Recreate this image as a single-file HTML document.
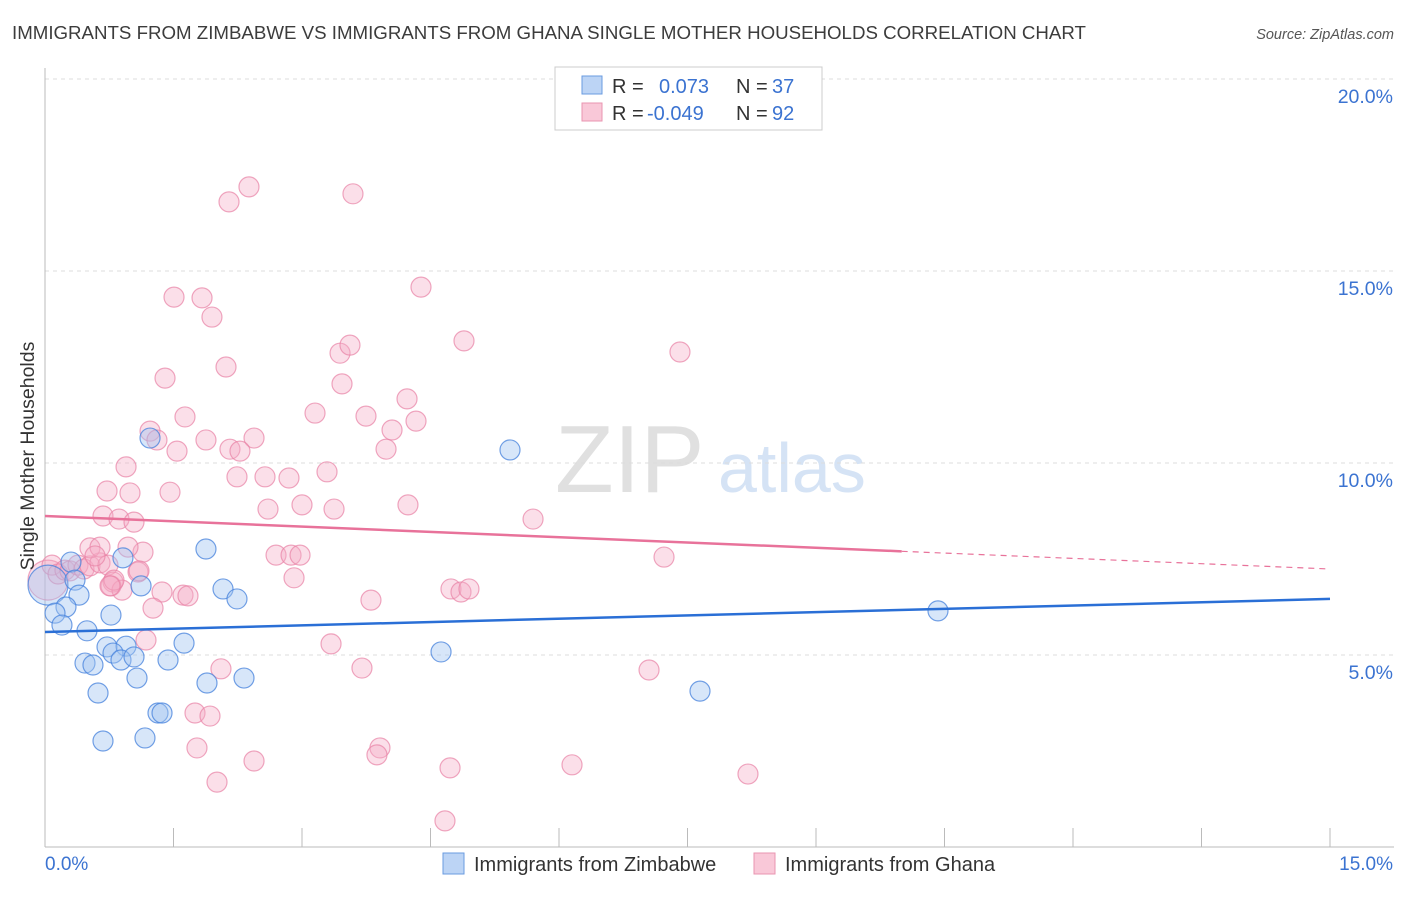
<!DOCTYPE html>
<html><head><meta charset="utf-8"><style>
body{margin:0;background:#fff;font-family:"Liberation Sans",sans-serif;}
svg text{font-family:"Liberation Sans",sans-serif;}
</style></head><body>
<svg id="c" width="1406" height="892" xmlns="http://www.w3.org/2000/svg">
<text x="12" y="39" font-size="18.7" fill="#3c3c3c">IMMIGRANTS FROM ZIMBABWE VS IMMIGRANTS FROM GHANA SINGLE MOTHER HOUSEHOLDS CORRELATION CHART</text>
<text x="1394" y="39" font-size="14.5" fill="#555" font-style="italic" text-anchor="end">Source: ZipAtlas.com</text>
<text x="555" y="492" font-size="96" fill="#e0e0e0" font-family="Liberation Serif">ZIP</text>
<text x="718" y="492" font-size="70" fill="#d5e3f5">atlas</text>
<g id="grid"></g>
<g id="axes"></g>
<g id="pts"></g>
<g id="lines"></g>
<text transform="translate(34,456) rotate(-90)" font-size="19.5" fill="#333" text-anchor="middle">Single Mother Households</text>
<g>
<rect x="555" y="67" width="267" height="63" fill="#fff" stroke="#ccc"/>
<rect x="582" y="76" width="20" height="18" fill="#bcd4f5" stroke="#6a9be0"/>
<rect x="582" y="103" width="20" height="18" fill="#f9c8d8" stroke="#e995b0"/>
<text x="612" y="93" font-size="20" fill="#333">R = <tspan x="659" fill="#3b73d1">0.073</tspan><tspan x="736">N = </tspan><tspan x="772" fill="#3b73d1">37</tspan></text>
<text x="612" y="120" font-size="20" fill="#333">R = <tspan x="647" fill="#3b73d1">-0.049</tspan><tspan x="736">N = </tspan><tspan x="772" fill="#3b73d1">92</tspan></text>
</g>
<g>
<rect x="443" y="853" width="21" height="21" fill="#bcd4f5" stroke="#6a9be0"/>
<text x="474" y="871" font-size="20" fill="#333">Immigrants from Zimbabwe</text>
<rect x="754" y="853" width="21" height="21" fill="#f9c8d8" stroke="#e995b0"/>
<text x="785" y="871" font-size="20" fill="#333">Immigrants from Ghana</text>
</g>
</svg>
<script>
const yTicks=[5,10,15,20];
const yTickLabels=["5.0%","10.0%","15.0%","20.0%"];
const xTickCount=10;
const blueX=[0.035,1.879,0.910,0.303,0.350,0.397,1.121,2.078,2.241,0.770,0.245,0.117,0.198,0.490,0.724,0.946,0.794,0.887,1.039,0.467,0.560,1.436,1.623,1.074,1.891,2.323,0.619,1.319,1.366,0.677,1.167,1.226,4.623,5.428,7.646,10.424];
const blueY=[6.82,7.76,7.53,7.42,6.95,6.56,6.80,6.72,6.46,6.04,6.25,6.09,5.78,5.63,5.21,5.23,5.05,4.87,4.95,4.79,4.74,4.87,5.31,4.40,4.27,4.40,4.01,3.49,3.49,2.76,2.84,10.65,5.08,10.34,4.06,6.15];
const blueR=[20];
const pinkX=[0.035,0.082,0.152,0.233,0.292,0.385,0.455,0.525,0.642,0.735,0.525,0.642,1.144,1.086,0.794,0.770,0.899,1.366,1.611,1.669,1.261,
2.381,2.148,3.595,1.506,1.833,1.949,4.389,4.891,7.412,3.444,3.560,1.401,2.113,3.467,3.152,3.747,4.226,4.331,4.051,1.634,1.226,1.307,1.541,1.879,2.440,2.159,2.276,3.981,3.292,0.946,2.241,2.568,2.848,0.724,0.992,1.459,3.000,3.374,4.237,2.603,5.697,0.677,0.864,1.039,0.584,0.969,2.697,2.872,2.977,7.226,2.907,3.805,4.739,4.856,4.949,1.179,3.339,3.700,2.054,7.051,1.751,1.926,3.910,3.875,1.774,2.440,4.728,6.152,8.206,2.008,4.669,1.097,0.805,0.759];
const pinkY=[6.95,7.34,7.11,7.21,7.19,7.34,7.24,7.32,7.40,7.34,7.79,7.81,7.68,7.16,6.90,6.80,6.69,6.64,6.56,6.54,6.22,
17.19,16.80,17.01,14.32,14.30,13.80,14.58,13.18,12.89,12.86,13.07,12.21,12.50,12.06,11.30,11.22,11.67,11.09,10.86,11.20,10.83,10.60,10.31,10.60,10.65,10.36,10.31,10.36,9.77,9.90,9.64,9.64,9.61,9.27,9.22,9.24,8.91,8.80,8.91,8.80,8.54,8.62,8.54,8.46,7.58,7.81,7.60,7.60,7.60,7.55,7.01,6.43,6.72,6.64,6.72,5.39,5.29,4.66,4.64,4.61,3.49,3.41,2.58,2.40,2.58,2.24,2.06,2.14,1.90,1.69,0.68,7.19,6.95,6.80];
const pinkR=[20];
const blueLine=[5.6,6.46];
const pinkLine=[8.62,7.24];
const pinkSolidEnd=10.0;
const X0=45,X1=1330,YB=847,PPU=38.4;
const sx=v=>X0+(v/15)*(X1-X0);
const sy=v=>YB-v*PPU;
const NS="http://www.w3.org/2000/svg";
function mk(tag,attrs,parent){const e=document.createElementNS(NS,tag);for(const k in attrs)e.setAttribute(k,attrs[k]);parent.appendChild(e);return e;}
const grid=document.getElementById('grid'),axes=document.getElementById('axes'),pts=document.getElementById('pts'),lines=document.getElementById('lines');
yTicks.forEach((t,i)=>{
 const l=mk('line',{x1:45,x2:1394,y1:sy(t),y2:sy(t),stroke:'#ddd','stroke-dasharray':'4,4'},grid);
 
 
 const tx=mk('text',{x:1393,y:sy(t)+24,'font-size':19.5,fill:'#3b73d1','text-anchor':'end'},axes);
 tx.textContent=yTickLabels[i];
 
 
});
const ya=mk('line',{x1:45,x2:45,y1:68,y2:847,stroke:'#bbb'},axes);


const xa=mk('line',{x1:45,x2:1394,y1:847,y2:847,stroke:'#bbb'},axes);


for(let i=0;i<=xTickCount;i++){
 const x=sx(i*15/xTickCount);
 const t=mk('line',{x1:x,x2:x,y1:828,y2:847,stroke:'#bbb'},axes);
 
 
}
const xl0=mk('text',{x:45,y:870,'font-size':19,fill:'#3b73d1'},axes);xl0.textContent='0.0%';


const xl1=mk('text',{x:1393,y:870,'font-size':19,fill:'#3b73d1','text-anchor':'end'},axes);xl1.textContent='15.0%';


pinkX.forEach((x,i)=>{
 const c=mk('circle',{cx:sx(x),cy:sy(pinkY[i]),r:pinkR[i]||10,fill:'rgba(245,170,196,0.38)',stroke:'rgba(232,130,165,0.7)','stroke-width':1.2},pts);
 
 
});
blueX.forEach((x,i)=>{
 const c=mk('circle',{cx:sx(x),cy:sy(blueY[i]),r:blueR[i]||10,fill:'rgba(160,195,240,0.42)',stroke:'rgba(70,130,220,0.75)','stroke-width':1.2},pts);
 
 
});
const bl=mk('line',{x1:sx(0),y1:sy(blueLine[0]),x2:sx(15),y2:sy(blueLine[1]),stroke:'#2a6fd6','stroke-width':2.5},lines);


const pm=pinkLine[0]+(pinkLine[1]-pinkLine[0])*pinkSolidEnd/15;
const pl=mk('line',{x1:sx(0),y1:sy(pinkLine[0]),x2:sx(pinkSolidEnd),y2:sy(pm),stroke:'#e8729a','stroke-width':2.5},lines);


const pd=mk('line',{x1:sx(pinkSolidEnd),y1:sy(pm),x2:sx(15),y2:sy(pinkLine[1]),stroke:'#e8729a','stroke-width':1.2,'stroke-dasharray':'6,5'},lines);


</script>
</body></html>
